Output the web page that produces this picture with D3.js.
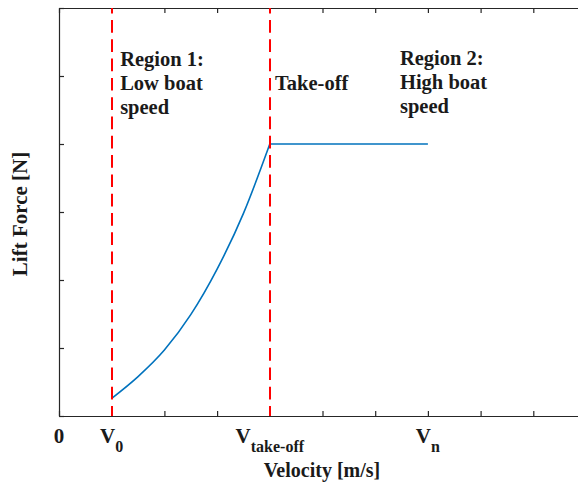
<!DOCTYPE html>
<html>
<head>
<meta charset="utf-8">
<script src="https://cdn.jsdelivr.net/npm/d3@7"></script>
<style>
  html, body { margin: 0; padding: 0; background: #fff; }
  svg { display: block; }
  text { font-family: "Liberation Serif", "Times New Roman", serif; font-weight: bold; fill: #1a1a1a; }
</style>
</head>
<body>
<svg id="chart" width="578" height="483"></svg>
<script>
// velocity grid (ticks) and the few labelled ticks
const xTicks = [0, 1, 2, 3, 4, 5, 6, 7, 8, 9, 10];
const yTicks = [0, 1, 2, 3, 4, 5, 6];
const labelVel = [0, 1, 4, 7];
const labelMain = ["0", "V", "V", "V"];
const labelSub = ["", "0", "take-off", "n"];

// lift force curve
const riseV = [1, 1.5, 2, 2.5, 3, 3.5, 4];
const riseF = [0.26, 0.58, 0.97, 1.49, 2.16, 2.98, 4.0];
const plateauV = [4, 7];
const plateauF = [4, 4];

// red dashed region boundaries
const dividers = [1, 4];

const region1 = ["Region 1:", "Low boat", "speed"];
const takeoff = ["Take-off"];
const region2 = ["Region 2:", "High boat", "speed"];

const svg = d3.select("#chart");
const axisColor = "#262626";

const x = d3.scaleLinear([0, 10], [59, 586]);
const y = d3.scaleLinear([0, 6], [416, 8]);

const line = d3.line().x(d => x(d[0])).y(d => y(d[1]));

// axes, ticks pointing inward like matlab
const gx = svg.append("g").attr("transform", `translate(0,${y(0)})`)
  .call(d3.axisBottom(x).tickValues(xTicks).tickSizeInner(-5).tickSizeOuter(0).tickFormat(() => ""));
const gxTop = svg.append("g").attr("transform", `translate(0,${y(6)})`)
  .call(d3.axisTop(x).tickValues(xTicks).tickSizeInner(-5).tickSizeOuter(0).tickFormat(() => ""));
const gy = svg.append("g").attr("transform", `translate(${x(0)},0)`)
  .call(d3.axisLeft(y).tickValues(yTicks).tickSizeInner(-5).tickSizeOuter(0).tickFormat(() => ""));
const gyRight = svg.append("g").attr("transform", `translate(${x(10)},0)`)
  .call(d3.axisRight(y).tickValues(yTicks).tickSizeInner(-5).tickSizeOuter(0).tickFormat(() => ""));

[gx, gxTop, gy, gyRight].forEach(g => {
  g.selectAll("path, line").attr("stroke", axisColor).attr("stroke-width", 1.2);
});

// tick labels with subscripts
const lbl = svg.append("g").selectAll("text").data(labelVel).join("text")
  .attr("x", d => x(d))
  .attr("y", 443)
  .attr("text-anchor", "middle")
  .style("font-size", "21px");
lbl.append("tspan").text((_, i) => labelMain[i]);
lbl.append("tspan").attr("dy", 9).style("font-size", "16px").text((_, i) => labelSub[i]);

// curve
svg.append("path").datum(riseV.map((v, i) => [v, riseF[i]]))
  .attr("d", line.curve(d3.curveMonotoneX))
  .attr("fill", "none").attr("stroke", "#0072BD").attr("stroke-width", 1.6);
svg.append("path").datum(plateauV.map((v, i) => [v, plateauF[i]]))
  .attr("d", d3.line().x(d => x(d[0])).y(d => y(d[1])))
  .attr("fill", "none").attr("stroke", "#0072BD").attr("stroke-width", 1.6);

// dividers
svg.selectAll("line.div").data(dividers).join("line").attr("class", "div")
  .attr("x1", d => Math.round(x(d))).attr("x2", d => Math.round(x(d)))
  .attr("y1", y(6)).attr("y2", y(0))
  .attr("stroke", "#FF0000").attr("stroke-width", 2)
  .attr("stroke-dasharray", "12.7,6.6")
  .attr("stroke-dashoffset", 7.3);

// annotations
function note(lines, vx, top) {
  svg.append("g").selectAll("text").data(lines).join("text")
    .attr("x", x(vx))
    .attr("y", (_, i) => top + i * 24)
    .style("font-size", "20.5px")
    .text(d => d);
}
note(region1, 1.16, 66);
note(takeoff, 4.1, 90);
note(region2, 6.47, 65);

// axis titles
svg.append("text").attr("x", 322).attr("y", 477)
  .attr("text-anchor", "middle").style("font-size", "20px")
  .text("Velocity [m/s]");
svg.append("text")
  .attr("transform", `translate(27,214) rotate(-90)`)
  .attr("text-anchor", "middle").style("font-size", "21px")
  .text("Lift Force [N]");
</script>
</body>
</html>
